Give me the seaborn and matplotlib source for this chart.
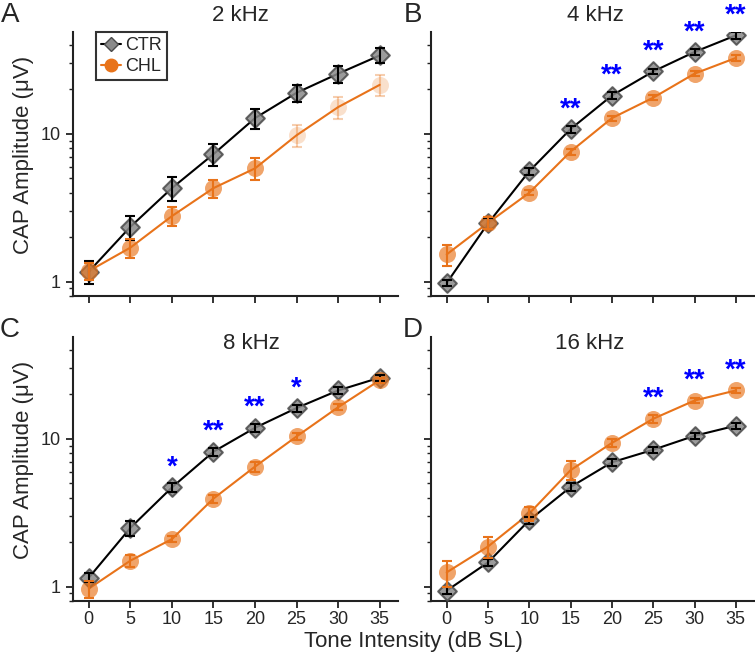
import matplotlib
matplotlib.use('Agg')
import matplotlib.pyplot as plt
from matplotlib.lines import Line2D
from matplotlib.ticker import FixedLocator, NullFormatter, LogLocator
import seaborn as sns

# stimulus levels (dB SL)
levels = [0, 5, 10, 15, 20, 25, 30, 35]
level_ticks = [0, 5, 10, 15, 20, 25, 30, 35]

# CAP amplitude (uV), mean and SEM
ctr_2k = [1.17, 2.35, 4.3, 7.3, 12.8, 19.0, 25.6, 34.0]
ctr_2k_err = [0.2, 0.42, 0.8, 1.2, 2.0, 2.5, 3.3, 4.0]
chl_2k = [1.18, 1.7, 2.78, 4.3, 5.85, 9.8, 15.2, 21.5]
chl_2k_err = [0.15, 0.25, 0.4, 0.6, 1.0, 1.7, 2.6, 3.5]

ctr_4k = [0.98, 2.48, 5.6, 10.8, 18.2, 26.5, 35.9, 46.5]
ctr_4k_err = [0.05, 0.2, 0.3, 0.6, 0.9, 1.2, 1.8, 2.3]
chl_4k = [1.53, 2.5, 4.0, 7.6, 12.8, 17.6, 25.6, 32.7]
chl_4k_err = [0.25, 0.22, 0.15, 0.35, 0.5, 0.7, 1.0, 1.5]

ctr_8k = [1.15, 2.5, 4.7, 8.2, 11.9, 16.2, 21.3, 26.0]
ctr_8k_err = [0.08, 0.3, 0.35, 0.5, 0.7, 0.9, 1.2, 1.2]
chl_8k = [0.97, 1.5, 2.1, 3.95, 6.5, 10.4, 16.4, 25.0]
chl_8k_err = [0.13, 0.15, 0.1, 0.25, 0.5, 0.6, 0.8, 1.0]

ctr_16k = [0.94, 1.46, 2.82, 4.73, 6.95, 8.45, 10.5, 12.3]
ctr_16k_err = [0.05, 0.08, 0.15, 0.3, 0.4, 0.4, 0.5, 0.6]
chl_16k = [1.25, 1.87, 3.13, 6.15, 9.4, 13.7, 18.2, 21.3]
chl_16k_err = [0.25, 0.3, 0.35, 0.9, 0.6, 0.8, 0.8, 0.8]

# significance marks
stars_2k = ['', '', '', '', '', '', '', '']
stars_4k = ['', '', '', '**', '**', '**', '**', '**']
stars_8k = ['', '', '*', '**', '**', '*', '', '']
stars_16k = ['', '', '', '', '', '**', '**', '**']

# CHL points shown faded in the 2 kHz panel
faded_2k = [False, False, False, False, False, True, True, True]
no_fade = [False] * 8

panel_letters = ['A', 'B', 'C', 'D']
freq_titles = ['2 kHz', '4 kHz', '8 kHz', '16 kHz']

sns.set_style('ticks')
plt.rcParams['font.family'] = ['Liberation Sans', 'DejaVu Sans']

ORANGE = '#E8731A'
GRAY = '#8a8a8a'

W, H = 755, 656
fig = plt.figure(figsize=(W / 100, H / 100), dpi=100)

# axes boxes in pixels: left, top, right, bottom
boxes = [(73, 32, 398, 296), (431, 32, 754, 296),
         (73, 337, 398, 601), (431, 337, 754, 601)]
title_pos = [(0.514, 1.064), (0.51, 1.064), (0.548, 0.975), (0.492, 0.975)]
letter_pos = [(10, 15), (413, 15), (10, 330), (413, 330)]

panels = [
    (ctr_2k, ctr_2k_err, chl_2k, chl_2k_err, stars_2k, faded_2k),
    (ctr_4k, ctr_4k_err, chl_4k, chl_4k_err, stars_4k, no_fade),
    (ctr_8k, ctr_8k_err, chl_8k, chl_8k_err, stars_8k, no_fade),
    (ctr_16k, ctr_16k_err, chl_16k, chl_16k_err, stars_16k, no_fade),
]

for i, (ctr, ctr_err, chl, chl_err, stars, faded) in enumerate(panels):
    l, t, r, b = boxes[i]
    ax = fig.add_axes([l / W, 1 - b / H, (r - l) / W, (b - t) / H])

    # connecting lines
    sns.lineplot(x=levels, y=ctr, color='black', lw=1.5, ax=ax, zorder=2)
    sns.lineplot(x=levels, y=chl, color=ORANGE, lw=1.5, ax=ax, zorder=2)

    # CTR markers + error bars
    sns.scatterplot(x=levels, y=ctr, marker='D', s=90, color=GRAY,
                    edgecolor='#4a4a4a', linewidth=1.5, alpha=0.85, ax=ax, zorder=3)
    ax.errorbar(levels, ctr, yerr=ctr_err, fmt='none', ecolor='black',
                elinewidth=1.5, capsize=3.5, capthick=1.5, zorder=4)

    # CHL markers + error bars (some faded)
    xs_n = [x for x, f in zip(levels, faded) if not f]
    ys_n = [y for y, f in zip(chl, faded) if not f]
    es_n = [e for e, f in zip(chl_err, faded) if not f]
    xs_f = [x for x, f in zip(levels, faded) if f]
    ys_f = [y for y, f in zip(chl, faded) if f]
    es_f = [e for e, f in zip(chl_err, faded) if f]
    sns.scatterplot(x=xs_n, y=ys_n, marker='o', s=150, color=ORANGE,
                    linewidth=0, alpha=0.65, ax=ax, zorder=3)
    ax.errorbar(xs_n, ys_n, yerr=es_n, fmt='none', ecolor=ORANGE,
                elinewidth=1.5, capsize=3.5, capthick=1.5, zorder=4)
    if xs_f:
        sns.scatterplot(x=xs_f, y=ys_f, marker='o', s=150, color=ORANGE,
                        linewidth=0, alpha=0.22, ax=ax, zorder=3)
        ax.errorbar(xs_f, ys_f, yerr=es_f, fmt='none', ecolor=ORANGE,
                    elinewidth=1.5, capsize=3.5, capthick=1.5, alpha=0.35, zorder=4)

    # significance stars above the higher series
    for x, s, a, c in zip(levels, stars, ctr, chl):
        if s:
            ax.text(x, max(a, c) * 1.36, s, color='#0000FF', fontsize=20,
                    fontweight='bold', ha='center', va='center', zorder=5)

    ax.set_yscale('log')
    ax.set_xlim(-1.9, 37.2)
    ax.set_ylim(0.8, 49)
    ax.set_xticks(level_ticks)
    ax.yaxis.set_major_locator(FixedLocator([1, 10]))
    ax.yaxis.set_minor_locator(LogLocator(base=10, subs=range(2, 10)))
    ax.yaxis.set_minor_formatter(NullFormatter())
    if i in (0, 2):
        ax.set_yticklabels(['1', '10'])
        ax.set_ylabel('CAP Amplitude (μV)', fontsize=16)
        ax.yaxis.label.set_va('center')
        ax.yaxis.set_label_coords(-0.151, 0.534)
    else:
        ax.set_yticklabels([])
        ax.set_ylabel('')
    if i in (0, 1):
        ax.set_xticklabels([])

    ax.tick_params(axis='both', which='major', length=5, width=1.3,
                   labelsize=13, color='#222222')
    ax.tick_params(axis='y', which='minor', length=3, width=1.0, color='#222222')
    ax.tick_params(axis='x', pad=2.5)
    ax.tick_params(axis='y', pad=4)
    sns.despine(ax=ax)
    for sp in ('left', 'bottom'):
        ax.spines[sp].set_linewidth(1.5)
        ax.spines[sp].set_color('#222222')

    tx, ty = title_pos[i]
    ax.text(tx, ty, freq_titles[i], transform=ax.transAxes, ha='center',
            va='center', fontsize=16)
    lx, ly = letter_pos[i]
    fig.text(lx / W, 1 - ly / H, panel_letters[i], ha='center', va='center',
             fontsize=20)

    if i == 0:
        handles = [
            Line2D([], [], color='black', lw=1.5, marker='D', markersize=7,
                   markerfacecolor=GRAY, markeredgecolor='#4a4a4a'),
            Line2D([], [], color=ORANGE, lw=1.5, marker='o', markersize=9,
                   markerfacecolor=ORANGE, markeredgecolor=ORANGE),
        ]
        leg = ax.legend(handles, ['CTR', 'CHL'], loc='upper left',
                        bbox_to_anchor=(0.07, 1.0), borderaxespad=0,
                        fontsize=13, handlelength=1.1, handletextpad=0.2,
                        borderpad=0.3, labelspacing=0.2, fancybox=False)
        leg.get_frame().set_edgecolor('black')
        leg.get_frame().set_linewidth(1.5)

fig.text(413 / W, 1 - 641 / H, 'Tone Intensity (dB SL)', ha='center',
         va='center', fontsize=16)

fig.savefig('out.png', dpi=100)
